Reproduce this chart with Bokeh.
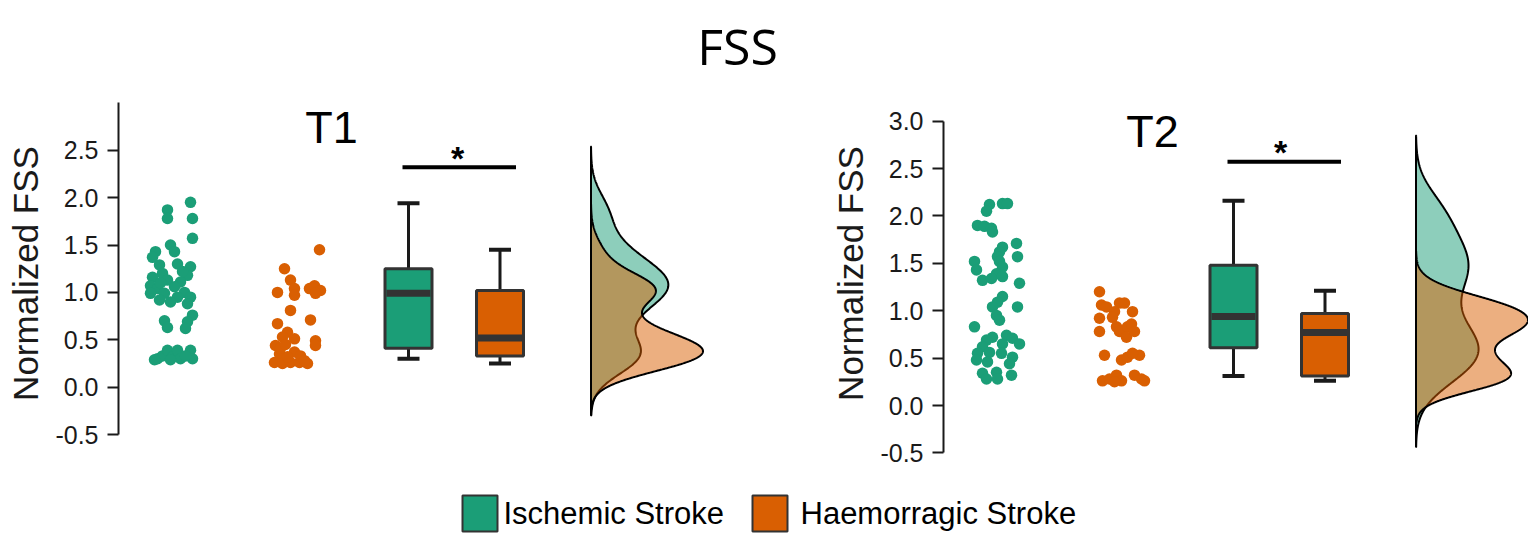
import numpy as np
from bokeh.plotting import figure
from bokeh.layouts import column, row
from bokeh.models import Range1d, FixedTicker, PrintfTickFormatter
from bokeh.core.properties import value
from bokeh.embed import file_html
from bokeh.resources import INLINE

# ---------------- data ----------------
chart_title = "FSS"
panel_titles = ["T1", "T2"]
groups = ["Ischemic Stroke", "Haemorragic Stroke"]
group_colors = ["#1B9E77", "#D95F02"]
y_label = "Normalized FSS"

t1_ticks = [-0.5, 0.0, 0.5, 1.0, 1.5, 2.0, 2.5]
t2_ticks = [-0.5, 0.0, 0.5, 1.0, 1.5, 2.0, 2.5, 3.0]

t1_isch = [1.87, 1.78, 1.95, 1.78, 1.57, 1.43, 1.50, 1.43, 1.37, 1.30, 1.29, 1.27, 1.20, 1.18, 1.16,
           1.13, 1.11, 1.07, 1.06, 1.04, 1.00, 0.99, 0.99, 0.95, 0.95, 0.92, 0.90, 0.88, 0.70, 0.63,
           0.76, 0.69, 0.62, 0.30, 0.33, 0.39, 0.32, 0.39, 0.30, 0.39, 0.30, 0.29, 0.29, 0.33, 1.10, 1.22]
t1_isch_jitter = [-0.20, -0.20, 0.72, 0.80, 0.80, -0.68, -0.08, 0.08, -0.80, 0.20, -0.52, 0.72, -0.40, 0.60, -0.80,
                  -0.20, 0.32, -0.88, 0.08, -0.60, 0.48, -0.88, -0.32, 0.20, 0.72, -0.52, -0.08, 0.60, -0.32, -0.20,
                  0.80, 0.60, 0.52, -0.60, -0.40, -0.20, 0.00, 0.20, 0.32, 0.72, 0.80, -0.72, -0.08, 0.52, -0.48, 0.40]
t1_haem = [1.45, 1.25, 1.13, 1.04, 0.97, 1.00, 1.04, 1.07, 1.02, 0.99, 0.81, 0.71, 0.67, 0.58, 0.53,
           0.49, 0.44, 0.44, 0.51, 0.35, 0.37, 0.26, 0.25, 0.26, 0.26, 0.25, 0.32, 0.33, 0.28, 0.41, 0.45]
t1_haem_jitter = [0.88, -0.52, -0.28, -0.12, -0.12, -0.80, 0.48, 0.68, 0.92, 0.72, -0.28, 0.52, -0.80, -0.40, -0.60,
                  0.72, 0.72, -0.88, -0.12, -0.72, -0.12, -0.92, -0.60, -0.28, 0.08, 0.40, -0.40, 0.12, 0.28, -0.68, -0.48]
t2_isch = [2.12, 2.05, 2.13, 2.13, 1.90, 1.89, 1.87, 1.83, 1.71, 1.57, 1.67, 1.62, 1.57, 1.52, 1.52,
           1.43, 1.46, 1.39, 1.32, 1.34, 1.36, 1.29, 1.15, 1.09, 1.04, 1.04, 0.95, 0.90, 0.83, 0.72,
           0.69, 0.74, 0.71, 0.65, 0.65, 0.62, 0.55, 0.56, 0.55, 0.51, 0.48, 0.46, 0.44, 0.34, 0.28,
           0.35, 0.28, 0.32]
t2_isch_jitter = [-0.32, -0.44, 0.20, 0.40, -0.80, -0.52, -0.24, -0.20, 0.76, 0.80, 0.20, 0.08, 0.00, 0.08, -0.92,
                  -0.84, 0.20, -0.04, -0.60, -0.24, 0.20, 0.88, 0.20, 0.00, 0.80, -0.20, -0.04, 0.08, -0.92, -0.20,
                  -0.44, 0.36, 0.60, 0.88, 0.20, -0.60, -0.80, -0.32, 0.16, 0.60, -0.84, -0.40, 0.48, -0.60, -0.44,
                  -0.04, 0.00, 0.56]
t2_haem = [1.20, 1.06, 1.04, 1.08, 1.08, 0.99, 0.99, 0.92, 0.93, 0.83, 0.78, 0.83, 0.86, 0.78, 0.72,
           0.78, 0.53, 0.48, 0.51, 0.53, 0.55, 0.26, 0.28, 0.32, 0.26, 0.25, 0.32, 0.28, 0.26]
t2_haem_jitter = [-0.92, -0.84, -0.64, -0.12, 0.08, -0.32, 0.40, -0.92, -0.40, -0.24, -0.12, 0.20, 0.36, -0.92, 0.16,
                  0.48, -0.72, -0.04, 0.20, 0.68, 0.40, -0.80, -0.52, -0.24, -0.04, -0.32, 0.48, 0.76, 0.88]

# box plot statistics: [lower whisker, Q1, median, Q3, upper whisker]
t1_isch_box = [0.30, 0.41, 0.99, 1.25, 1.94]
t1_haem_box = [0.25, 0.33, 0.52, 1.02, 1.45]
t2_isch_box = [0.31, 0.61, 0.94, 1.48, 2.16]
t2_haem_box = [0.26, 0.31, 0.77, 0.97, 1.21]

significance = ["*", "*"]
sig_bar_level = [2.32, 2.57]

# ---------------- layout / style constants ----------------
FONT = "Liberation Sans"
INK = "#1a1a1a"
BOX_LINE = "#333333"
LEFT_W = 790
TOTAL_W = 1528
TITLE_H = 93
PANEL_H = 387
LEGEND_H = 53
PX_PER_UNIT = 94.8
JITTER_HALF = 25
DOT_X = [54, 179]
BOX_X = [290, 381.5]
BOX_W = 47
CAP_W = 22
DENS_BASE = 472.5
DENS_W = 112


def kde_nrd0(vals):
    x = np.asarray(vals, dtype=float)
    n = len(x)
    sd = x.std(ddof=1)
    q75, q25 = np.percentile(x, [75, 25])
    bw = 0.9 * min(sd, (q75 - q25) / 1.34) * n ** -0.2
    grid = np.linspace(x.min() - 3 * bw, x.max() + 3 * bw, 512)
    d = np.exp(-0.5 * ((grid[:, None] - x[None, :]) / bw) ** 2).sum(axis=1) / (n * bw * np.sqrt(2 * np.pi))
    return grid, d


def make_panel(title, series, jitters, boxes, ticks, fig_w, border_left, zero_page_y, fig_top_page,
               sig_level, sig_text, title_xy, star_xy):
    border_bottom = 27
    frame_h = PANEL_H - border_bottom
    frame_w = fig_w - border_left
    y_top = (zero_page_y - fig_top_page) / PX_PER_UNIT
    y_bot = y_top - frame_h / PX_PER_UNIT
    p = figure(width=fig_w, height=PANEL_H, output_backend="svg", toolbar_location=None,
               x_range=Range1d(0, frame_w), y_range=Range1d(y_bot, y_top),
               x_axis_location=None, min_border_left=border_left, min_border_right=0,
               min_border_top=0, min_border_bottom=border_bottom)
    p.outline_line_color = None
    p.grid.visible = False
    ax = p.yaxis[0]
    ax.bounds = (-0.5, 3.0)
    ax.ticker = FixedTicker(ticks=ticks)
    ax.formatter = PrintfTickFormatter(format="%.1f")
    ax.minor_tick_line_color = None
    ax.major_tick_in = 0
    ax.major_tick_out = 11
    ax.major_tick_line_width = 2
    ax.major_tick_line_color = INK
    ax.axis_line_width = 2
    ax.axis_line_color = INK
    ax.major_label_text_font = FONT
    ax.major_label_text_font_size = "25px"
    ax.major_label_text_color = INK
    ax.major_label_standoff = 9
    ax.axis_label = y_label
    ax.axis_label_text_font = FONT
    ax.axis_label_text_font_size = "35px"
    ax.axis_label_text_font_style = "normal"
    ax.axis_label_text_color = INK
    ax.axis_label_standoff = 7

    # density (half violin)
    dens = [kde_nrd0(s) for s in series]
    scale = DENS_W / max(d.max() for _, d in dens)
    for (grid, d), col in zip(dens, group_colors):
        xs = [DENS_BASE] + list(DENS_BASE + d * scale) + [DENS_BASE]
        ys = [grid[0]] + list(grid) + [grid[-1]]
        p.patch(xs, ys, fill_color=col, fill_alpha=0.5, line_color="black", line_width=2)

    # jittered points
    for s, jit, cx, col in zip(series, jitters, DOT_X, group_colors):
        xs = [cx + j * JITTER_HALF for j in jit]
        p.scatter(xs, s, size=11.5, fill_color=col, line_color=None)

    # boxplots
    for b, cx, col in zip(boxes, BOX_X, group_colors):
        lo, q1, med, q3, hi = b
        p.segment([cx, cx], [q3, q1], [cx, cx], [hi, lo], line_color=INK, line_width=3)
        p.segment([cx - CAP_W / 2] * 2, [hi, lo], [cx + CAP_W / 2] * 2, [hi, lo], line_color=INK, line_width=4)
        p.quad(left=cx - BOX_W / 2, right=cx + BOX_W / 2, bottom=q1, top=q3,
               fill_color=col, line_color=BOX_LINE, line_width=3)
        p.segment([cx - BOX_W / 2 + 1.5], [med], [cx + BOX_W / 2 - 1.5], [med], line_color=BOX_LINE, line_width=7)

    # significance bar
    p.segment([BOX_X[0] - 6], [sig_level], [BOX_X[1] + 16], [sig_level], line_color="black", line_width=4)
    p.text([star_xy[0]], [star_xy[1]], text=[sig_text], text_font=value(FONT), text_font_size="34px",
           text_font_style="bold", text_align="center", text_baseline="middle", text_color="black")

    # panel title
    p.text([title_xy[0]], [title_xy[1]], text=[title], text_font=value(FONT), text_font_size="45px",
           text_align="center", text_baseline="middle", text_color="black")
    return p


left = make_panel(panel_titles[0], [t1_isch, t1_haem], [t1_isch_jitter, t1_haem_jitter],
                  [t1_isch_box, t1_haem_box], t1_ticks, fig_w=LEFT_W, border_left=118,
                  zero_page_y=386.7, fig_top_page=TITLE_H, sig_level=sig_bar_level[0], sig_text=significance[0],
                  title_xy=(213, 2.74), star_xy=(339, 2.42))
right = make_panel(panel_titles[1], [t2_isch, t2_haem], [t2_isch_jitter, t2_haem_jitter],
                   [t2_isch_box, t2_haem_box], t2_ticks, fig_w=TOTAL_W - LEFT_W, border_left=153,
                   zero_page_y=405, fig_top_page=TITLE_H, sig_level=sig_bar_level[1], sig_text=significance[1],
                   title_xy=(209, 2.89), star_xy=(337, 2.67))

# overall title
top = figure(width=TOTAL_W, height=TITLE_H, output_backend="svg", toolbar_location=None,
             x_range=Range1d(0, TOTAL_W), y_range=Range1d(0, TITLE_H),
             x_axis_location=None, y_axis_location=None, min_border=0)
top.outline_line_color = None
top.grid.visible = False
top.text([737], [TITLE_H - 45], text=[chart_title], text_font=value("Open Sans"), text_font_size="50px",
         text_align="center", text_baseline="middle", text_color="black")

# legend
leg = figure(width=TOTAL_W, height=LEGEND_H, output_backend="svg", toolbar_location=None,
             x_range=Range1d(0, TOTAL_W), y_range=Range1d(0, LEGEND_H),
             x_axis_location=None, y_axis_location=None, min_border=0)
leg.outline_line_color = None
leg.grid.visible = False
sq_x = [479.5, 769.5]
tx_x = [503, 800]
leg.rect(sq_x, [20, 20], width=35, height=36, fill_color=group_colors, line_color=BOX_LINE, line_width=2)
leg.text(tx_x, [20, 20], text=groups, text_font=value(FONT), text_font_size="31px",
         text_align="left", text_baseline="middle", text_color="black")

layout = column(top, row(left, right), leg)
open("out.html", "w").write(file_html(layout, INLINE))
